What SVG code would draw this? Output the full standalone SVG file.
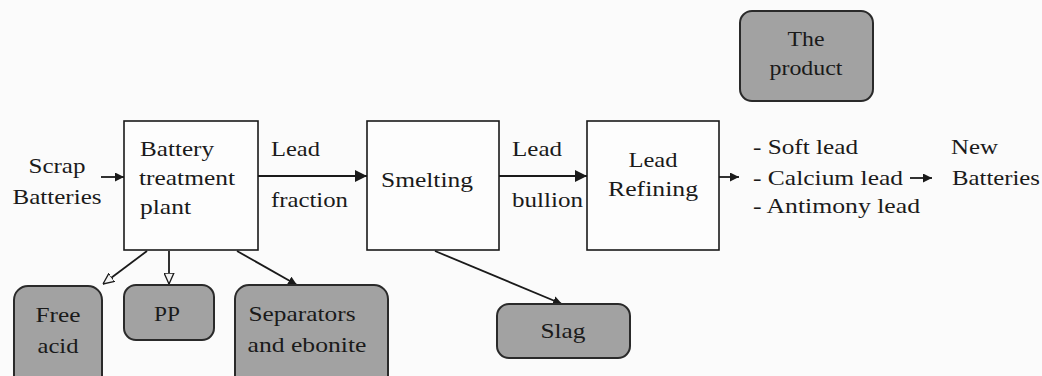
<svg xmlns="http://www.w3.org/2000/svg" width="1042" height="376" viewBox="0 0 1042 376">
<defs>
<style>
text{font-family:'Liberation Serif','Times New Roman',serif;font-size:22px;fill:#1a1a1a}
.box{fill:#fdfdfd;stroke:#1a1a1a;stroke-width:1.6}
.out{fill:#a2a2a2;stroke:#2a2a2a;stroke-width:2}
.c{text-anchor:middle}
.ln{stroke:#1a1a1a;stroke-width:1.8;fill:none}
</style>
<marker id="ah" viewBox="0 0 10 10" refX="10" refY="5" markerWidth="9" markerHeight="9" markerUnits="userSpaceOnUse" orient="auto"><path d="M0,0 L10,5 L0,10 Z" fill="#1a1a1a"/></marker>
<marker id="ahL" viewBox="0 0 10 10" refX="10" refY="5" markerWidth="12" markerHeight="12" markerUnits="userSpaceOnUse" orient="auto"><path d="M0,0 L10,5 L0,10 Z" fill="#1a1a1a"/></marker>
<marker id="ahO" viewBox="0 0 10 10" refX="10" refY="5" markerWidth="11" markerHeight="11" markerUnits="userSpaceOnUse" orient="auto"><path d="M0,0.5 L10,5 L0,9.5 Z" fill="#f4f4f4" stroke="#1a1a1a" stroke-width="1.2"/></marker>
</defs>
<rect width="1042" height="376" fill="#fbfbfb"/>

<g id="connectors">
<line class="ln" x1="101" y1="177" x2="124" y2="177" marker-end="url(#ah)"/>
<line class="ln" x1="258" y1="176" x2="367" y2="176" marker-end="url(#ahL)"/>
<line class="ln" x1="499" y1="176" x2="587" y2="176" marker-end="url(#ahL)"/>
<line class="ln" x1="719" y1="177" x2="739" y2="177" marker-end="url(#ah)"/>
<line class="ln" x1="910" y1="178" x2="932" y2="178" marker-end="url(#ah)"/>
<line class="ln" x1="147" y1="251" x2="103" y2="284" marker-end="url(#ahO)"/>
<line class="ln" x1="169" y1="251" x2="169" y2="284" marker-end="url(#ahO)"/>
<line class="ln" x1="237" y1="251" x2="297" y2="285" marker-end="url(#ah)"/>
<line class="ln" x1="435" y1="251" x2="562" y2="304" marker-end="url(#ah)"/>
</g>

<g id="scrap">
<text x="57" y="173" class="c" textLength="57" lengthAdjust="spacingAndGlyphs">Scrap</text>
<text x="57" y="204" class="c" textLength="89" lengthAdjust="spacingAndGlyphs">Batteries</text>
</g>

<g id="battery-plant">
<rect class="box" x="124" y="121" width="134" height="129"/>
<text x="140" y="156" textLength="74" lengthAdjust="spacingAndGlyphs">Battery</text>
<text x="139" y="185" textLength="96" lengthAdjust="spacingAndGlyphs">treatment</text>
<text x="140" y="214" textLength="51" lengthAdjust="spacingAndGlyphs">plant</text>
</g>

<g id="lead-fraction">
<text x="271" y="156" textLength="49" lengthAdjust="spacingAndGlyphs">Lead</text>
<text x="271" y="207" textLength="77" lengthAdjust="spacingAndGlyphs">fraction</text>
</g>

<g id="smelting">
<rect class="box" x="367" y="121" width="132" height="129"/>
<text x="381" y="187" textLength="92" lengthAdjust="spacingAndGlyphs">Smelting</text>
</g>

<g id="lead-bullion">
<text x="512" y="156" textLength="50" lengthAdjust="spacingAndGlyphs">Lead</text>
<text x="512" y="207" textLength="71" lengthAdjust="spacingAndGlyphs">bullion</text>
</g>

<g id="lead-refining">
<rect class="box" x="587" y="121" width="132" height="129"/>
<text x="653" y="167" class="c" textLength="49" lengthAdjust="spacingAndGlyphs">Lead</text>
<text x="653" y="196" class="c" textLength="90" lengthAdjust="spacingAndGlyphs">Refining</text>
</g>

<g id="products">
<text x="753" y="154" textLength="105" lengthAdjust="spacingAndGlyphs">- Soft lead</text>
<text x="753" y="185" textLength="150" lengthAdjust="spacingAndGlyphs">- Calcium lead</text>
<text x="753" y="213" textLength="167" lengthAdjust="spacingAndGlyphs">- Antimony lead</text>
</g>

<g id="new-batteries">
<text x="951" y="154" textLength="47" lengthAdjust="spacingAndGlyphs">New</text>
<text x="952" y="185" textLength="88" lengthAdjust="spacingAndGlyphs">Batteries</text>
</g>

<g id="the-product">
<rect class="out" x="740" y="11" width="133" height="90" rx="12"/>
<text x="806" y="46" class="c" textLength="37" lengthAdjust="spacingAndGlyphs">The</text>
<text x="806" y="75" class="c" textLength="73" lengthAdjust="spacingAndGlyphs">product</text>
</g>

<g id="free-acid">
<rect class="out" x="14" y="286" width="88" height="104" rx="14"/>
<text x="58" y="322" class="c" textLength="45" lengthAdjust="spacingAndGlyphs">Free</text>
<text x="58" y="353" class="c" textLength="41" lengthAdjust="spacingAndGlyphs">acid</text>
</g>

<g id="pp">
<rect class="out" x="124" y="285" width="90" height="55" rx="12"/>
<text x="167" y="321" class="c" textLength="26" lengthAdjust="spacingAndGlyphs">PP</text>
</g>

<g id="separators">
<rect class="out" x="235" y="285" width="153" height="105" rx="14"/>
<text x="302" y="321" class="c" textLength="107" lengthAdjust="spacingAndGlyphs">Separators</text>
<text x="307" y="352" class="c" textLength="119" lengthAdjust="spacingAndGlyphs">and ebonite</text>
</g>

<g id="slag">
<rect class="out" x="497" y="304" width="133" height="54" rx="12"/>
<text x="563" y="338" class="c" textLength="45" lengthAdjust="spacingAndGlyphs">Slag</text>
</g>
</svg>
